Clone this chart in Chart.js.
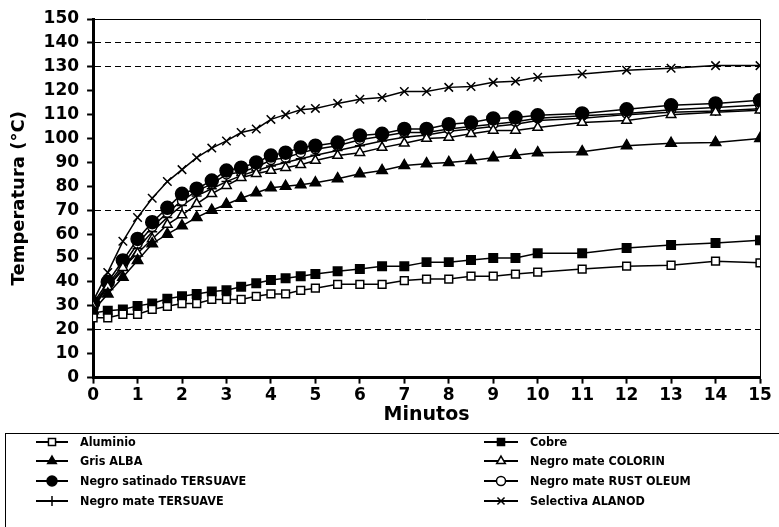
<!DOCTYPE html>
<html><head><meta charset="utf-8">
<script src="https://cdn.jsdelivr.net/npm/chart.js@4"></script>
<style>html,body{margin:0;padding:0;background:#fff}#wrap{width:779px;height:527px;position:relative}</style>
</head><body><div id="wrap"><canvas id="c" width="779" height="527"></canvas></div>
<script>
const minutes = [0, 0.33, 0.67, 1, 1.33, 1.67, 2, 2.33, 2.67, 3, 3.33, 3.67, 4, 4.33, 4.67, 5, 5.5, 6, 6.5, 7, 7.5, 8, 8.5, 9, 9.5, 10, 11, 12, 13, 14, 15];
const aluminio = [25, 25, 26.5, 26.5, 28.5, 29.8, 31, 31, 32.7, 32.7, 32.7, 34, 35, 35, 36.5, 37.4, 39, 39, 39, 40.6, 41.2, 41.2, 42.4, 42.4, 43.3, 44.1, 45.4, 46.6, 47, 48.7, 48];
const cobre = [27, 28, 28.5, 30, 31, 33, 34, 35, 36, 36.5, 38, 39.5, 40.8, 41.6, 42.4, 43.3, 44.5, 45.4, 46.6, 46.6, 48.3, 48.3, 49.2, 50, 50, 52, 52, 54.2, 55.5, 56.3, 57.5];
const grisAlba = [28, 35, 42, 49, 56, 60, 63.5, 67, 70, 72.5, 75, 77.3, 79.4, 80, 80.7, 81.5, 83.2, 85.3, 86.6, 88.7, 89.5, 90, 90.8, 92, 93, 94.1, 94.5, 97, 98, 98.3, 100];
const negroColorin = [30, 38, 46, 52, 58, 64, 68, 72.7, 76.9, 80.3, 83.6, 85.3, 86.6, 87.8, 89, 90.8, 92.9, 94.1, 96.2, 98, 100, 100.4, 102, 103.4, 103.4, 104.6, 106.7, 107.5, 110, 111, 111.8];
const negroSatinado = [31, 40, 49, 58, 65, 71, 76.9, 79, 82.4, 86.6, 87.8, 90, 92.9, 94.1, 96.2, 97, 98.3, 101.3, 102, 104, 104, 106, 106.7, 108.4, 108.8, 109.7, 110.5, 112.2, 113.9, 114.7, 116];
const negroRust = [30, 39, 47, 56, 63, 69, 74, 78, 81, 85, 86, 88, 91, 92, 94, 95.5, 97, 99.5, 101, 102.5, 102.5, 104, 105, 106, 107, 108.5, 109.5, 110.5, 112, 113, 114];
const negroTersuave = [29, 38, 45, 54, 61, 67, 72, 76, 79, 82, 84.5, 86.5, 88.5, 90, 91.5, 93, 95, 97, 99, 100.5, 101.5, 103, 104, 105, 106, 107.5, 108.5, 110, 111, 111.5, 112.5];
const selectiva = [32, 44, 57, 67, 75, 82, 87, 92, 96, 99, 102.5, 104, 108, 110, 112, 112.6, 114.7, 116.4, 117.2, 119.7, 119.7, 121.4, 121.8, 123.5, 124, 125.6, 127, 128.6, 129.4, 130.5, 130.5];
const seriesNames = ['Aluminio', 'Cobre', 'Gris ALBA', 'Negro mate COLORIN', 'Negro satinado TERSUAVE', 'Negro mate RUST OLEUM', 'Negro mate TERSUAVE', 'Selectiva ALANOD'];
const dashedLevels = [20, 70, 130, 140];

const seriesValues = [aluminio, cobre, grisAlba, negroColorin, negroSatinado, negroRust, negroTersuave, selectiva];
const styles = [
  {pointStyle:'rect', bg:'#fff', r:5.5},
  {pointStyle:'rect', bg:'#000', r:6},
  {pointStyle:'triangle', bg:'#000', r:6},
  {pointStyle:'triangle', bg:'#fff', r:5.5},
  {pointStyle:'circle', bg:'#000', r:6.5},
  {pointStyle:'circle', bg:'#fff', r:4.5},
  {pointStyle:'cross', bg:'#000', r:5},
  {pointStyle:'crossRot', bg:'#000', r:6}
];
const datasets = seriesValues.map((vals, i) => ({
  label: seriesNames[i],
  data: minutes.map((m, j) => ({x: m, y: vals[j]})),
  borderColor: '#000',
  backgroundColor: styles[i].bg,
  borderWidth: 1.5,
  pointStyle: styles[i].pointStyle,
  pointRadius: styles[i].r,
  pointBorderColor: '#000',
  pointBackgroundColor: styles[i].bg,
  pointBorderWidth: 1.5,
  tension: 0
}));

const frame = {
  id: 'frame',
  afterDraw(chart) {
    const {ctx, chartArea: a} = chart;
    ctx.save();
    ctx.strokeStyle = '#000'; ctx.lineWidth = 1;
    ctx.beginPath();
    ctx.moveTo(a.left, a.top + 0.5); ctx.lineTo(a.right + 0.5, a.top + 0.5); ctx.lineTo(a.right + 0.5, a.bottom);
    ctx.stroke();
    // legend
    ctx.strokeRect(5.5, 433.5, 820, 200);
    const cols = [{x1: 36, x2: 68, tx: 80}, {x1: 484, x2: 518, tx: 530}];
    const rows = [442, 461, 481, 501];
    chart.data.datasets.forEach((ds, i) => {
      const c = cols[i % 2], y = rows[Math.floor(i / 2)];
      ctx.strokeStyle = '#000'; ctx.lineWidth = 2;
      ctx.beginPath(); ctx.moveTo(c.x1, y); ctx.lineTo(c.x2, y); ctx.stroke();
      ctx.fillStyle = ds.pointBackgroundColor; ctx.lineWidth = 1.5;
      Chart.helpers.drawPoint(ctx, {pointStyle: ds.pointStyle, radius: Math.min(ds.pointRadius, 5), rotation: 0, borderWidth: 1.5}, (c.x1 + c.x2) / 2, y);
      ctx.fillStyle = '#000';
      ctx.font = "bold 12.5px 'DejaVu Sans Condensed', 'DejaVu Sans', sans-serif";
      ctx.textBaseline = 'middle'; ctx.textAlign = 'left';
      ctx.fillText(ds.label, c.tx, y + 1);
    });
    ctx.restore();
  }
};

const tickFont = {family: "'DejaVu Sans', sans-serif", size: 17, weight: 'bold'};
new Chart(document.getElementById('c'), {
  type: 'line',
  data: {datasets},
  options: {
    responsive: false,
    animation: false,
    layout: {padding: {top: 19, right: 19, bottom: 102, left: 9}},
    plugins: {legend: {display: false}, tooltip: {enabled: false}},
    scales: {
      x: {
        type: 'linear', min: 0, max: 15,
        ticks: {stepSize: 1, autoSkip: false, maxRotation: 0, color: '#000', font: tickFont, padding: 2},
        grid: {drawOnChartArea: false, tickColor: '#000', tickLength: 6, tickWidth: 2},
        border: {color: '#000', width: 3},
        title: {display: true, text: 'Minutos', color: '#000', font: {family: "'DejaVu Sans', sans-serif", size: 19, weight: 'bold', lineHeight: 1}, padding: {top: -2, bottom: 0}}
      },
      y: {
        min: 0, max: 150,
        ticks: {stepSize: 10, autoSkip: false, color: '#000', font: tickFont, padding: 8},
        grid: {
          color: c => (c.tick && dashedLevels.includes(c.tick.value)) ? '#000' : 'rgba(0,0,0,0)',
          lineWidth: 1, tickColor: '#000', tickLength: 6, tickWidth: 2
        },
        border: {color: '#000', width: 3, dash: [6, 4]},
        title: {display: true, text: 'Temperatura (°C)', color: '#000', font: {family: "'DejaVu Sans', sans-serif", size: 18, weight: 'bold'}, padding: {top: 0, bottom: 5}}
      }
    }
  },
  plugins: [frame]
});
</script></body></html>
